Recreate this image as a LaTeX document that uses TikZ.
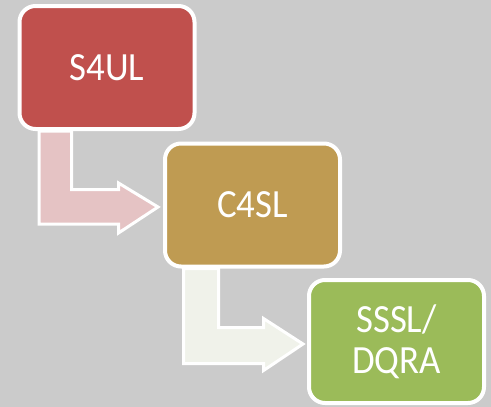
\documentclass[tikz,border=0pt]{standalone}
\usepackage{fontspec}
\setmainfont{Carlito}[FakeStretch=0.92]
\definecolor{bggray}{HTML}{CBCBCB}
\definecolor{boxred}{HTML}{C0504D}
\definecolor{boxgold}{HTML}{BF9B52}
\definecolor{boxgreen}{HTML}{9BBB59}
\definecolor{arrowpink}{HTML}{E5C3C4}
\definecolor{arrowpale}{HTML}{F0F2EA}
\usetikzlibrary{positioning, calc, backgrounds}

\begin{document}
\begin{tikzpicture}[x=1pt, y=-1pt,
        box/.style={rectangle, draw=white, line width=4pt, minimum width=175pt, minimum height=123pt, align=center, rounded corners=16pt, text=white, inner sep=0pt, font=\fontsize{40}{41}\selectfont},
        bentarrow/.style={draw=white, line width=3pt, line join=miter}
    ]
        \useasboundingbox (0,0) rectangle (491,407);
        \node[box, fill=boxred] (S4UL) at (107,67.5) {S4UL};
        \node[box, fill=boxgold] (C4SL) at (252.5,205) {C4SL};
        \node[box, fill=boxgreen] (SSSL) at (396.5,341.5) {SSSL/\\DQRA};
        \coordinate (TIP1) at ($(C4SL.west)+(-5,2)$);
        \coordinate (TIP2) at ($(SSSL.west)+(-4,2.5)$);
        \begin{pgfonlayer}{background}
            \fill[bggray] (0,0) rectangle (491,407);
            % bent arrows behind the boxes
            \draw[bentarrow, fill=arrowpink] (S4UL.south west) ++(21.5,0) -- ++(32.5,0) -- ++(0,58.5) -- ++(47,0) -- ++(0,-6.5) -- (TIP1) -- ++(-39.5,26) -- ++(0,-9) -- ++(-79.5,0) -- cycle;
            \draw[bentarrow, fill=arrowpale] (C4SL.south west) ++(20.5,0) -- ++(35,0) -- ++(0,59) -- ++(45,0) -- ++(0,-9) -- (TIP2) -- ++(-39.5,26.5) -- ++(0,-7) -- ++(-80,0) -- cycle;
        \end{pgfonlayer}
    \end{tikzpicture}
\end{document}
